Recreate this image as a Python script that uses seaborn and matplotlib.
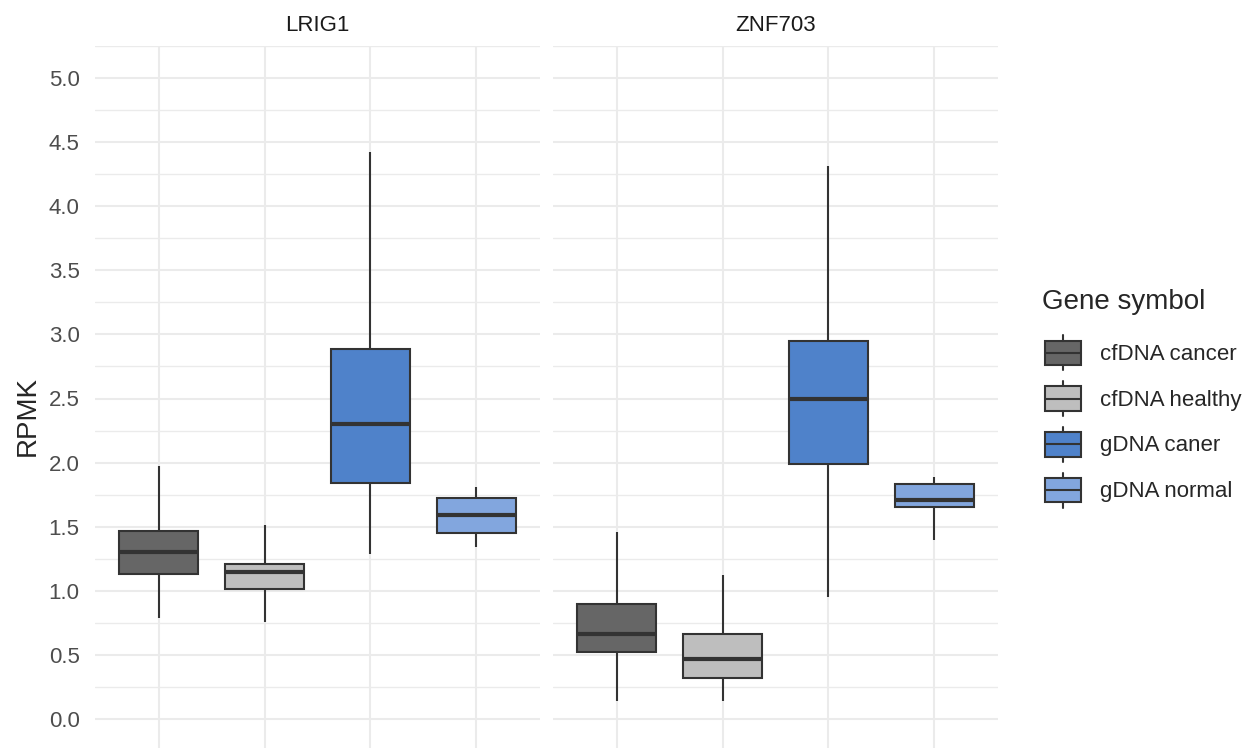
import numpy as np
import pandas as pd
import matplotlib
matplotlib.use("Agg")
import matplotlib.pyplot as plt
import seaborn as sns

from matplotlib.legend_handler import HandlerBase
from matplotlib.patches import Rectangle, Patch
from matplotlib.lines import Line2D
from matplotlib.ticker import MultipleLocator


OUTPUT_FIG = "out.png"

genes = ["LRIG1", "ZNF703"]
groups = ["cfDNA cancer", "cfDNA healthy", "gDNA caner", "gDNA normal"]
group_colors = ["#666666", "#BEBEBE", "#4F82CA", "#82A6DE"]

# five-number summaries (whisker low, Q1, median, Q3, whisker high)
lrig1_low = [0.79, 0.76, 1.29, 1.34]
lrig1_q1 = [1.13, 1.01, 1.84, 1.45]
lrig1_median = [1.30, 1.15, 2.30, 1.59]
lrig1_q3 = [1.47, 1.21, 2.89, 1.72]
lrig1_high = [1.97, 1.51, 4.42, 1.81]

znf703_low = [0.14, 0.14, 0.95, 1.40]
znf703_q1 = [0.52, 0.32, 1.99, 1.65]
znf703_median = [0.66, 0.47, 2.50, 1.71]
znf703_q3 = [0.90, 0.66, 2.95, 1.83]
znf703_high = [1.46, 1.12, 4.31, 1.89]

EDGE = "#333333"
TEXT_SIZE = 16

summaries = {
    "LRIG1": [lrig1_low, lrig1_q1, lrig1_median, lrig1_q3, lrig1_high],
    "ZNF703": [znf703_low, znf703_q1, znf703_median, znf703_q3, znf703_high],
}

rows = []
for gene in genes:
    for stat_values in summaries[gene]:
        for group, value in zip(groups, stat_values):
            rows.append({"Gene": gene, "Group": group, "RPMK": value})

df = pd.DataFrame(rows)
palette = dict(zip(groups, group_colors))


class BoxKeyHandler(HandlerBase):
    def create_artists(self, legend, orig_handle, xdescent, ydescent,
                       width, height, fontsize, trans):
        x0, y0 = -xdescent, -ydescent
        face = orig_handle.get_facecolor()
        box = Rectangle((x0, y0 + 0.15 * height), width, 0.7 * height,
                        facecolor=face, edgecolor=EDGE, linewidth=1.5,
                        transform=trans)
        mid = Line2D([x0, x0 + width], [y0 + 0.5 * height] * 2,
                     color=EDGE, linewidth=1.5, transform=trans)
        top = Line2D([x0 + width / 2] * 2, [y0 + 0.85 * height, y0 + height],
                     color=EDGE, linewidth=1.5, transform=trans)
        bottom = Line2D([x0 + width / 2] * 2, [y0, y0 + 0.15 * height],
                        color=EDGE, linewidth=1.5, transform=trans)
        return [box, mid, top, bottom]


sns.set_style("white")
plt.rcParams["font.family"] = ["Liberation Sans", "DejaVu Sans"]

W, H = 1259, 748
fig = plt.figure(figsize=(W / 100, H / 100), dpi=100)

panel_top = 46
panel_bottom = 751
panels = [(95, 540), (553, 998)]

for idx, gene in enumerate(genes):
    left, right = panels[idx]
    ax = fig.add_axes([left / W, (H - panel_bottom) / H,
                       (right - left) / W, (panel_bottom - panel_top) / H])

    sns.boxplot(
        data=df[df["Gene"] == gene],
        x="Group",
        y="RPMK",
        hue="Group",
        order=groups,
        hue_order=groups,
        palette=palette,
        width=0.75,
        whis=(0, 100),
        showcaps=False,
        linecolor=EDGE,
        linewidth=1.5,
        medianprops={"linewidth": 3, "color": EDGE},
        saturation=1,
        legend=False,
        ax=ax,
    )

    ax.set_xlim(-0.6, 3.6)
    ax.set_ylim(-0.25, 5.25)
    ax.yaxis.set_major_locator(MultipleLocator(0.5))
    ax.yaxis.set_minor_locator(MultipleLocator(0.25))
    ax.set_xticks(range(len(groups)))
    ax.set_xticklabels([])
    ax.set_xlabel("")
    ax.set_ylabel("")
    ax.set_axisbelow(True)
    ax.grid(which="major", color="#EBEBEB", linewidth=1.5)
    ax.grid(which="minor", axis="y", color="#EBEBEB", linewidth=1.0)
    ax.tick_params(which="both", length=0)
    ax.tick_params(axis="y", labelsize=TEXT_SIZE, labelcolor="#4D4D4D", pad=11)
    if idx == 1:
        ax.set_yticklabels([])
    else:
        ax.set_yticklabels([f"{v:.1f}" for v in ax.get_yticks()])
    for spine in ax.spines.values():
        spine.set_visible(False)
    ax.set_title(gene, fontsize=TEXT_SIZE, color="#1A1A1A", pad=11)

fig.text(28 / W, 1 - 416 / H, "RPMK", rotation=90, fontsize=20,
         ha="center", va="center")

fig.text(1042 / W, 1 - 302 / H, "Gene symbol", fontsize=20,
         ha="left", va="center")

handles = [Patch(facecolor=c, edgecolor=EDGE) for c in group_colors]
fig.legend(
    handles,
    groups,
    handler_map={Patch: BoxKeyHandler()},
    loc="upper left",
    bbox_to_anchor=(1045 / W, 1 - 335.5 / H),
    frameon=False,
    borderpad=0,
    borderaxespad=0,
    fontsize=TEXT_SIZE,
    handlelength=36 / (TEXT_SIZE * 100 / 72),
    handleheight=(25.2 / TEXT_SIZE - 0.245) / 0.65,
    labelspacing=7.7 / TEXT_SIZE,
    handletextpad=19 / (TEXT_SIZE * 100 / 72),
)

plt.savefig(OUTPUT_FIG, dpi=100)
plt.close()
